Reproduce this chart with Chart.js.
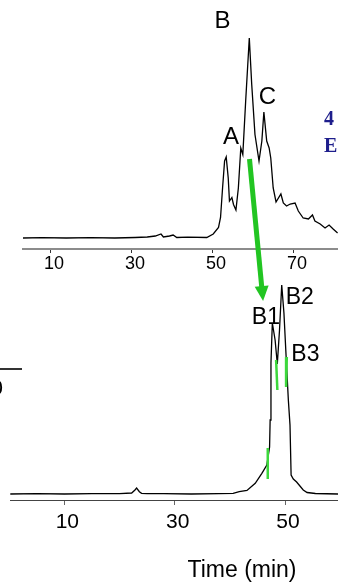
<!DOCTYPE html>
<html>
<head>
<meta charset="utf-8">
<script src="https://cdn.jsdelivr.net/npm/chart.js@4.4.1/dist/chart.umd.min.js"></script>
<style>
  body { margin: 0; background: #fff; }
  #wrap { position: relative; width: 338px; height: 585px; }
  #wrap canvas { position: absolute; left: 0; top: 0; }
</style>
</head>
<body>
<div id="wrap">
  <canvas id="lowerChart" width="338" height="585"></canvas>
  <canvas id="upperChart" width="338" height="585"></canvas>
</div>
<script>
// upper trace: first separation (time in min, detector signal)
const upperTimes = [3.3, 8, 14, 20, 26, 31, 34, 36, 37.4, 38, 39.5, 40.4, 41.3, 44, 48.7, 50.3, 51.6, 52.1, 52.6, 53.1,
  53.5, 54.0, 54.3, 54.9, 55.3, 55.9, 56.5, 57.1, 57.6, 58.3, 59.2, 59.8, 60.6, 61.6, 62.3, 62.8, 63.5, 64.1, 64.5, 65.1,
  65.8, 67.0, 67.6, 68.4, 69.3, 70.5, 71.3, 72.5, 73.8, 74.8, 75.4, 76.7, 77.9, 78.9, 79.9, 81.0];
const upperSignal = [0, 0.3, 0, 0.4, 0, 0.5, 1, 2, 4, 1, 2, 3, 0.5, 0.8, 0.5, 4, 10.5, 20.5, 50, 77,
  81, 60, 37, 40.5, 33.5, 28, 50, 90, 83.5, 136.5, 200, 153.5, 103.5, 77, 97, 126, 97, 90, 80, 50,
  36, 44, 35, 32, 34, 35, 27, 20, 19, 23, 17, 14, 10, 13, 9, 5];
const upperTicks = [10, 30, 50, 70];

// lower trace: re-run of fraction B
const lowerTimes = [0.2, 5, 10, 15, 20, 22.2, 22.8, 23.1, 23.6, 24.0, 25, 28, 33, 38, 40.6, 41.7, 43.1, 44.6, 45.8, 46.7,
  47.2, 47.3, 47.45, 47.7, 48.2, 48.6, 49.0, 49.4, 49.8, 50.2, 50.6, 50.9, 51.1, 51.5, 52.1, 52.7, 53.3, 54.0, 55.5, 59.6];
const lowerSignal = [0, 0.3, 0, 0.4, 0.3, 1, 4, 6, 2.3, 0.7, 0.3, 0.3, 0, 0.3, 0.7, 2.3, 3.5, 10.7, 20.7, 29,
  47, 74, 131, 171, 154, 130, 164, 209, 181, 137, 94, 69, 19, 15, 12, 8, 4, 1.5, 0.5, 0];
const lowerTicks = [10, 30, 50];

// fraction cut marks on the lower trace
const cutTimesTop = [46.87, 48.38, 50.32];
const cutTimesBottom = [46.87, 48.61, 50.19];
const cutSignalTop = [46, 134, 137];
const cutSignalBottom = [15, 104, 107];

// peak names, anchored in data units
const upperPeakNames = ["A", "B", "C"];
const upperPeakTimes = [54.7, 52.6, 63.7];
const upperPeakLevels = [101, 217, 141];
const lowerPeakNames = ["B1", "B2", "B3"];
const lowerPeakTimes = [46.53, 52.67, 53.69];
const lowerPeakLevels = [176.5, 196, 139];

const axisTitle = "Time (min)";

const FONT = "'Liberation Sans', Arial, sans-serif";
const GREEN_MARK = "#3cd83c";
const GREEN_ARROW = "#22c522";

function toPoints(xs, ys) {
  return xs.map((x, i) => ({ x: x, y: ys[i] }));
}

function peakText(names, times, levels, size) {
  return {
    id: "peakText",
    afterDatasetsDraw(chart) {
      const ctx = chart.ctx;
      const sx = chart.scales.x, sy = chart.scales.y;
      ctx.save();
      ctx.fillStyle = "#000";
      ctx.font = size + "px " + FONT;
      ctx.textAlign = "center";
      ctx.textBaseline = "middle";
      names.forEach((n, i) => {
        ctx.fillText(n, sx.getPixelForValue(times[i]), sy.getPixelForValue(levels[i]));
      });
      ctx.restore();
    },
  };
}

// arrow from fraction B (upper) down to the lower run, plus stray bits at the edges
const upperDecor = {
  id: "upperDecor",
  afterDraw(chart) {
    const ctx = chart.ctx;
    const sx = chart.scales.x, sy = chart.scales.y;
    const x0 = sx.getPixelForValue(59.25), y0 = sy.getPixelForValue(79);
    const x1 = sx.getPixelForValue(62.6), y1 = sy.getPixelForValue(-63);
    const len = Math.hypot(x1 - x0, y1 - y0);
    const ux = (x1 - x0) / len, uy = (y1 - y0) / len;
    const headLen = 15, headHalf = 7;
    const bx = x1 - ux * headLen, by = y1 - uy * headLen;
    ctx.save();
    ctx.strokeStyle = GREEN_ARROW;
    ctx.lineWidth = 5;
    ctx.beginPath();
    ctx.moveTo(x0, y0);
    ctx.lineTo(bx + ux * 1, by + uy * 1);
    ctx.stroke();
    ctx.fillStyle = GREEN_ARROW;
    ctx.beginPath();
    ctx.moveTo(x1, y1);
    ctx.lineTo(bx - uy * headHalf, by + ux * headHalf);
    ctx.lineTo(bx + uy * headHalf, by - ux * headHalf);
    ctx.closePath();
    ctx.fill();

    // cut-off blue text on the right
    ctx.fillStyle = "#1e1e8c";
    ctx.font = "bold 20px 'Liberation Serif', 'Times New Roman', serif";
    ctx.textAlign = "left";
    ctx.textBaseline = "alphabetic";
    ctx.fillText("4", 324, 125);
    ctx.fillText("E", 324, 152);
    ctx.restore();
  },
};

const lowerDecor = {
  id: "lowerDecor",
  afterDraw(chart) {
    const ctx = chart.ctx;
    ctx.save();
    ctx.fillStyle = "#000";
    ctx.font = "23px " + FONT;
    ctx.textAlign = "center";
    ctx.textBaseline = "middle";
    ctx.fillText(axisTitle, 242, 571);
    // leftover from a neighbouring panel
    ctx.strokeStyle = "#333";
    ctx.lineWidth = 2;
    ctx.beginPath();
    ctx.moveTo(0, 369);
    ctx.lineTo(22, 369);
    ctx.stroke();
    ctx.font = "22px " + FONT;
    ctx.textAlign = "right";
    ctx.textBaseline = "alphabetic";
    ctx.fillText("0", 3, 395);
    ctx.restore();
  },
};

function buildChart(id, opts) {
  const datasets = [];
  (opts.cuts || []).forEach((c) => {
    datasets.push({
      data: c,
      borderColor: GREEN_MARK,
      borderWidth: 2.5,
      pointRadius: 0,
    });
  });
  datasets.push({
    data: opts.trace,
    borderColor: "#000",
    borderWidth: 1.3,
    pointRadius: 0,
    tension: 0,
  });
  return new Chart(document.getElementById(id), {
    type: "line",
    data: { datasets: datasets },
    options: {
      responsive: false,
      animation: false,
      devicePixelRatio: 1,
      layout: { padding: opts.padding },
      plugins: { legend: { display: false }, tooltip: { enabled: false } },
      scales: {
        x: {
          type: "linear",
          min: opts.xMin,
          max: opts.xMax,
          afterBuildTicks: (scale) => {
            scale.ticks = opts.ticks.map((v) => ({ value: v }));
          },
          afterFit: (scale) => {
            scale.height = opts.axisHeight;
          },
          grid: {
            drawOnChartArea: false,
            drawTicks: true,
            tickLength: opts.tickLength,
            color: opts.tickColor,
          },
          border: { color: opts.axisColor, width: opts.axisWidth },
          ticks: {
            color: "#000",
            font: { family: FONT, size: opts.tickFont },
            padding: opts.tickPadding,
            labelOffset: opts.labelOffset,
            maxRotation: 0,
            autoSkip: false,
            callback: (v) => String(v),
          },
        },
        y: {
          display: false,
          min: opts.yMin,
          max: opts.yMax,
        },
      },
    },
    plugins: opts.plugins,
  });
}

buildChart("lowerChart", {
  trace: toPoints(lowerTimes, lowerSignal),
  cuts: cutTimesTop.map((t, i) => [
    { x: t, y: cutSignalTop[i] },
    { x: cutTimesBottom[i], y: cutSignalBottom[i] },
  ]),
  padding: { left: 10, right: 0, top: 280, bottom: 0 },
  xMin: 0.15,
  xMax: 59.6,
  yMin: -6,
  yMax: 214,
  ticks: lowerTicks,
  axisHeight: 85,
  tickLength: 5,
  tickColor: "#666",
  axisColor: "#444",
  axisWidth: 1,
  tickFont: 21,
  tickPadding: 5,
  labelOffset: 3,
  plugins: [peakText(lowerPeakNames, lowerPeakTimes, lowerPeakLevels, 23), lowerDecor],
});

buildChart("upperChart", {
  trace: toPoints(upperTimes, upperSignal),
  padding: { left: 23, right: 0, top: 0, bottom: 305 },
  xMin: 3.33,
  xMax: 81.1,
  yMin: -11,
  yMax: 238,
  ticks: upperTicks,
  axisHeight: 31,
  tickLength: 4,
  tickColor: "#333",
  axisColor: "#8c8c8c",
  axisWidth: 2,
  tickFont: 18,
  tickPadding: 0,
  labelOffset: 4,
  plugins: [peakText(upperPeakNames, upperPeakTimes, upperPeakLevels, 24), upperDecor],
});
</script>
</body>
</html>
